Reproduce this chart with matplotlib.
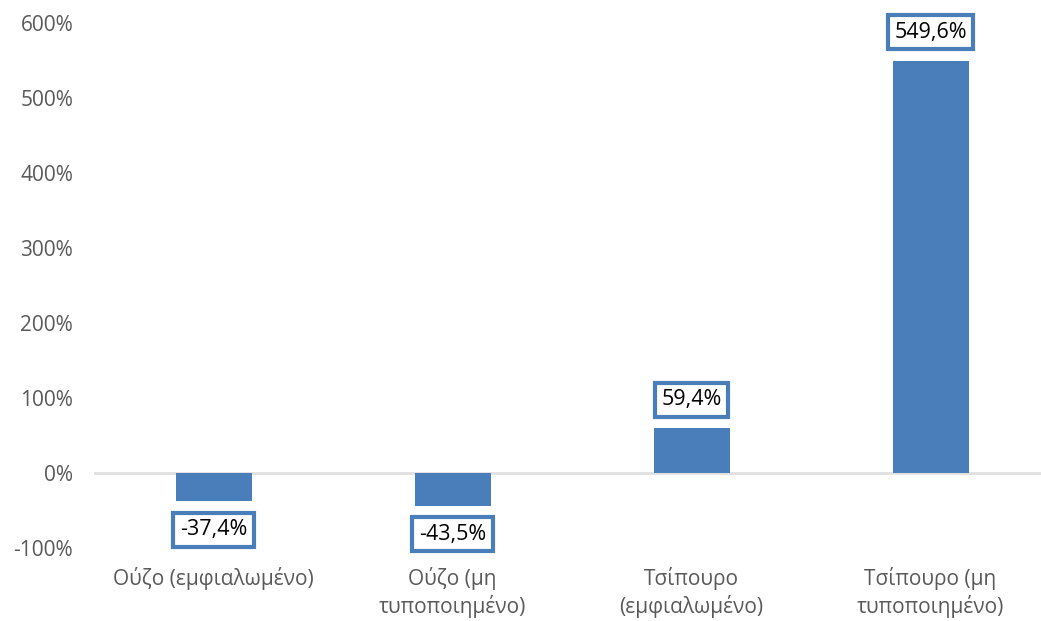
import matplotlib.pyplot as plt
from matplotlib.ticker import FuncFormatter

plt.rcParams['font.family'] = ['Open Sans', 'DejaVu Sans']

categories = ['Ούζο (εμφιαλωμένο)', 'Ούζο (μη\nτυποποιημένο)',
              'Τσίπουρο\n(εμφιαλωμένο)', 'Τσίπουρο (μη\nτυποποιημένο)']
changes = [-37.4, -43.5, 59.4, 549.6]

bar_color = '#4a7ebb'
text_gray = '#595959'

fig = plt.figure(figsize=(10.41, 6.21), dpi=100)
# plot area runs a little past the right edge of the figure
ax = fig.add_axes([0.0903, 0.1176, 0.9184, 0.8454])

x = range(len(categories))
ax.bar(x, changes, width=0.318, color=bar_color, zorder=2)

ax.set_xlim(-0.5, len(categories) - 0.5)
ax.set_ylim(-100, 600)
ax.set_yticks(range(-100, 601, 100))
ax.yaxis.set_major_formatter(FuncFormatter(lambda v, _: f'{v:.0f}%'))
ax.set_xticks(list(x))
ax.set_xticklabels(categories)
ax.tick_params(axis='both', length=0, labelsize=15, colors=text_gray)
ax.tick_params(axis='y', pad=15)
ax.tick_params(axis='x', pad=14)
for lbl in ax.get_xticklabels():
    lbl.set_linespacing(1.25)

for side in ['top', 'right', 'left', 'bottom']:
    ax.spines[side].set_visible(False)
ax.axhline(0, color='#e0e0e0', linewidth=2, zorder=1)

# value labels in boxed callouts, above positive bars and below negative ones
for xi, v in zip(x, changes):
    label = f'{v:.1f}%'.replace('.', ',')
    offset = 13 if v >= 0 else -13
    ax.annotate(label, (xi, v), xytext=(0, offset), textcoords='offset points',
                ha='center', va='bottom' if v >= 0 else 'top',
                fontsize=15.5, color='black',
                bbox=dict(boxstyle='square,pad=0.3', facecolor='white',
                          edgecolor=bar_color, linewidth=3))

fig.savefig('out.png', dpi=100, facecolor='white')
